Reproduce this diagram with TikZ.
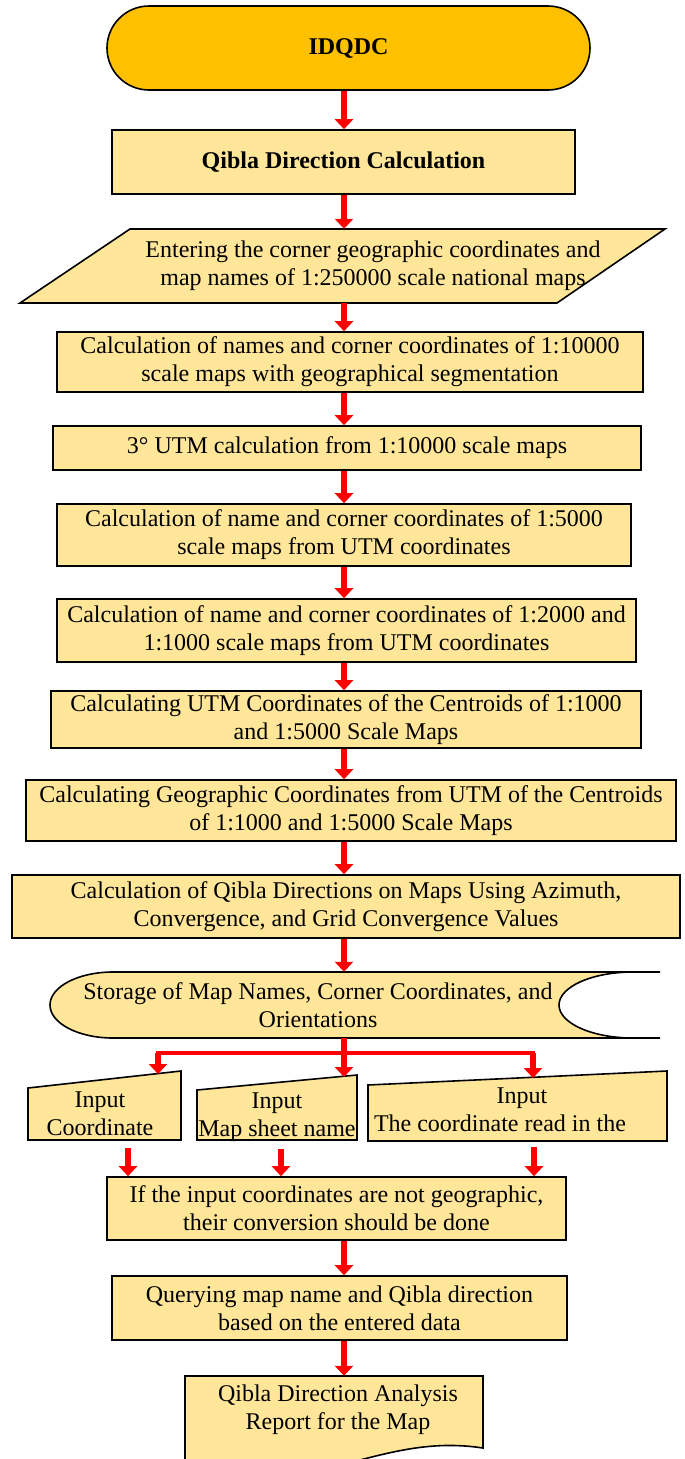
\documentclass[tikz,border=0pt]{standalone}
\usepackage{fontspec}
\setmainfont{Liberation Serif}
\usetikzlibrary{calc}
\usetikzlibrary{arrows.meta}
\usetikzlibrary{shapes.misc}
\definecolor{termcol}{RGB}{255,192,0}
\definecolor{boxcol}{RGB}{255,230,153}
\definecolor{flowcol}{RGB}{255,0,0}

\begin{document}
\begin{tikzpicture}[x=1pt, y=-1pt, font=\fontsize{24}{28}\selectfont,
    terminal/.style={rounded rectangle, draw, line width=1.6pt, fill=termcol, inner sep=0pt,
        minimum width=483pt, minimum height=84pt, font=\fontsize{24}{28}\selectfont\bfseries},
    procbox/.style={draw, line width=1.6pt, fill=boxcol, align=center, inner sep=0pt},
    outline/.style={draw, line width=1.6pt, fill=boxcol},
    txt/.style={align=center, inner sep=0pt},
    flow/.style={flowcol, line width=6pt, -{Triangle[length=10pt,width=18pt]}},
    branch/.style={flowcol, line width=4.5pt, line cap=rect}]
        \useasboundingbox (0,0) rectangle (685,1459);
        \clip (0,0) rectangle (685,1459);
        \fill[white] (0,0) rectangle (685,1459);

        \coordinate (axis) at (344,0);
        \coordinate (split) at (344,1053);
        \coordinate (aTop) at (158,1074);
        \coordinate (bTop) at (344,1077);
        \coordinate (cTop) at (533,1078);
        \coordinate (colA) at (128,0);
        \coordinate (colB) at (281,0);
        \coordinate (colC) at (534,0);

        \node[terminal] (idqdc) at (348.5,48) {IDQDC};
        \node[procbox, minimum width=463pt, minimum height=64pt, font=\fontsize{24}{28}\selectfont\bfseries]
            (qibla) at (343.5,162) {Qibla Direction Calculation};

        \draw[outline] (130,229) -- (665,229) -- (557,303) -- (20,303) -- cycle;
        \node[txt, minimum height=74pt] (enter) at (373,266)
            {Entering the corner geographic coordinates and\\map names of 1:250000 scale national maps};

        \node[procbox, minimum width=586pt, minimum height=60pt] (tenk) at (350,362)
            {Calculation of names and corner coordinates of 1:10000\\scale maps with geographical segmentation};
        \node[procbox, minimum width=588pt, minimum height=44pt] (utm) at (347,448)
            {3° UTM calculation from 1:10000 scale maps};
        \node[procbox, minimum width=574pt, minimum height=62pt] (fivek) at (344,535)
            {Calculation of name and corner coordinates of 1:5000\\scale maps from UTM coordinates};
        \node[procbox, minimum width=579pt, minimum height=63pt] (twok) at (346.5,630.5)
            {Calculation of name and corner coordinates of 1:2000 and\\1:1000 scale maps from UTM coordinates};
        \node[procbox, minimum width=590pt, minimum height=57pt] (cenutm) at (346,719.5)
            {Calculating UTM Coordinates of the Centroids of 1:1000\\and 1:5000 Scale Maps};
        \node[procbox, minimum width=650pt, minimum height=61pt] (cengeo) at (351,810.5)
            {Calculating Geographic Coordinates from UTM of the Centroids\\of 1:1000 and 1:5000 Scale Maps};
        \node[procbox, minimum width=668pt, minimum height=63pt] (qmaps) at (346,906.5)
            {Calculation of Qibla Directions on Maps Using Azimuth,\\Convergence, and Grid Convergence Values};

        % stored data
        \fill[boxcol] (633,972) -- (113,972) arc[start angle=270, end angle=90, x radius=63, y radius=33]
            -- (633,1038) arc[start angle=90, end angle=270, x radius=74, y radius=33] -- cycle;
        \draw[line width=1.6pt] (660,972) -- (113,972) arc[start angle=270, end angle=90, x radius=63, y radius=33] -- (660,1038);
        \draw[line width=1.6pt] (633,1038) arc[start angle=90, end angle=270, x radius=74, y radius=33];
        \node[txt, minimum height=66pt] (store) at (318,1005)
            {Storage of Map Names, Corner Coordinates, and\\Orientations};

        % manual inputs
        \draw[outline] (28,1088) -- (181,1071) -- (181,1140) -- (28,1140) -- cycle;
        \draw[outline] (197,1090) -- (357,1075) -- (357,1140) -- (197,1140) -- cycle;
        \draw[outline] (368,1085) -- (667,1071) -- (667,1141) -- (368,1141) -- cycle;
        \node[txt, minimum height=52pt] (inA) at (100,1114) {Input\\Coordinate};
        \node[txt, minimum height=46pt] (inB) at (277,1117) {Input\\Map sheet name};
        \node[txt, minimum height=62pt] (inC) at (522,1110)
            {Input\\\makebox[296pt][l]{The coordinate read in the}};

        \node[procbox, minimum width=459pt, minimum height=63pt] (convert) at (336.5,1208.5)
            {If the input coordinates are not geographic,\\their conversion should be done};
        \node[procbox, minimum width=455pt, minimum height=64pt] (query) at (339.5,1308)
            {Querying map name and Qibla direction\\based on the entered data};

        \draw[outline] (185,1376) -- (483,1376) -- (483,1448)
            .. controls (430,1440) and (390,1452) .. (330,1468) -- (185,1468) -- cycle;
        \node[txt, minimum height=68pt] (report) at (338,1410)
            {Qibla Direction Analysis\\Report for the Map};

        % arrows
        \foreach \a/\b in {idqdc/qibla, qibla/enter, enter/tenk, tenk/utm, utm/fivek, fivek/twok,
                cenutm/cengeo, twok/cenutm, cengeo/qmaps, qmaps/store, convert/query, query/report}
            \draw[flow] (\a.south -| axis) -- (\b.north -| axis);

        \draw[flow] (store.south -| axis) -- (bTop);
        \draw[branch] (aTop |- split) -- (cTop |- split);
        \draw[flow] (aTop |- split) -- (aTop);
        \draw[flow] (cTop |- split) -- (cTop);

        \draw[flow] ([yshift=-8pt]inA.south -| colA) -- (convert.north -| colA);
        \draw[flow] ([yshift=-7pt]inB.south -| colB) -- (convert.north -| colB);
        \draw[flow] ([yshift=-6pt]inC.south -| colC) -- (convert.north -| colC);
\end{tikzpicture}
\end{document}
